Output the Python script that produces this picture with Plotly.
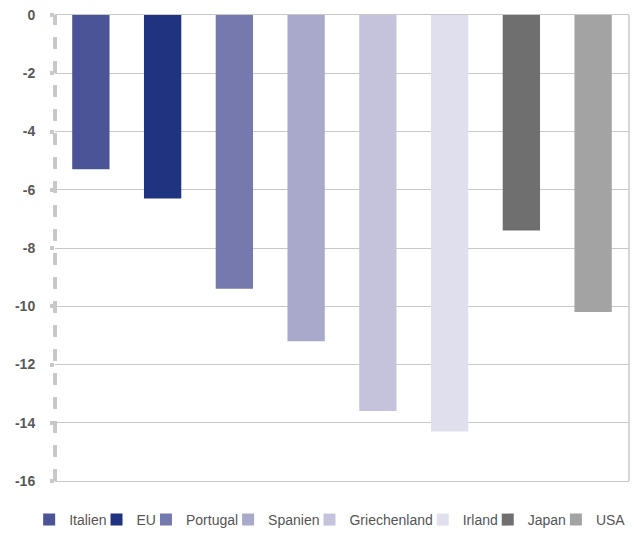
import plotly.graph_objects as go

countries = ["Italien", "EU", "Portugal", "Spanien", "Griechenland", "Irland", "Japan", "USA"]
values = [-5.3, -6.3, -9.4, -11.2, -13.6, -14.3, -7.4, -10.2]
colors = ["#4a5496", "#1f3380", "#7679ad", "#a9a9cb", "#c4c3db", "#e0dfee", "#6f6f6f", "#a3a3a3"]
y_ticks = [0, -2, -4, -6, -8, -10, -12, -14, -16]

# approx Arial widths (per 1000 em) to size legend entries
W = {"I": 278, "t": 278, "a": 556, "l": 222, "i": 222, "e": 556, "n": 556, "E": 667, "U": 722,
     "P": 667, "o": 556, "r": 333, "u": 556, "g": 556, "S": 667, "p": 556, "G": 778, "c": 500,
     "h": 556, "d": 556, "J": 500, "A": 667}
FS = 14

fig = go.Figure()
for i, (c, v, col) in enumerate(zip(countries, values, colors)):
    tw = sum(W.get(ch, 556) for ch in c) * FS / 1000
    lw = tw + 2 if i == len(countries) - 1 else max(tw - 15, 1)
    fig.add_trace(go.Bar(x=[c], y=[v], name=c, marker=dict(color=col, line=dict(width=0)),
                         width=0.52, legendwidth=lw))

grid = "#c8c8c8"
fig.update_layout(
    width=644, height=534,
    margin=dict(l=55, r=15, t=15, b=53, autoexpand=False),
    paper_bgcolor="white", plot_bgcolor="white",
    barmode="overlay",
    showlegend=True,
    legend=dict(orientation="h", x=-0.045, xanchor="left", y=-0.0837, yanchor="middle",
                font=dict(family="Liberation Sans, Arial", size=FS, color="#555555"),
                itemwidth=30, tracegroupgap=0, bgcolor="rgba(0,0,0,0)"),
    xaxis=dict(showticklabels=False, showgrid=False, zeroline=False,
               showline=True, mirror=True, linecolor=grid, linewidth=1,
               categoryorder="array", categoryarray=countries, fixedrange=True),
    yaxis=dict(range=[-16, 0], tickvals=y_ticks, ticktext=[str(t) for t in y_ticks],
               showgrid=True, gridcolor=grid, gridwidth=1, zeroline=False, showline=False,
               ticks="outside", ticklen=4, tickwidth=4, tickcolor=grid,
               tickfont=dict(family="Liberation Sans, Arial", size=14, color="#595959", weight="bold"),
               ticklabelstandoff=12, ticklabeloverflow="allow"),
    shapes=[
        dict(type="line", xref="paper", yref="paper", x0=0, x1=0, y0=0, y1=1,
             line=dict(color=grid, width=4, dash="dash")),
        dict(type="line", xref="paper", yref="paper", x0=1, x1=1, y0=0, y1=1,
             line=dict(color=grid, width=1.5)),
    ],
)
fig.write_html("out.html", config={"displayModeBar": False},
               post_script="document.body.style.margin='0';document.body.style.overflow='hidden';")
